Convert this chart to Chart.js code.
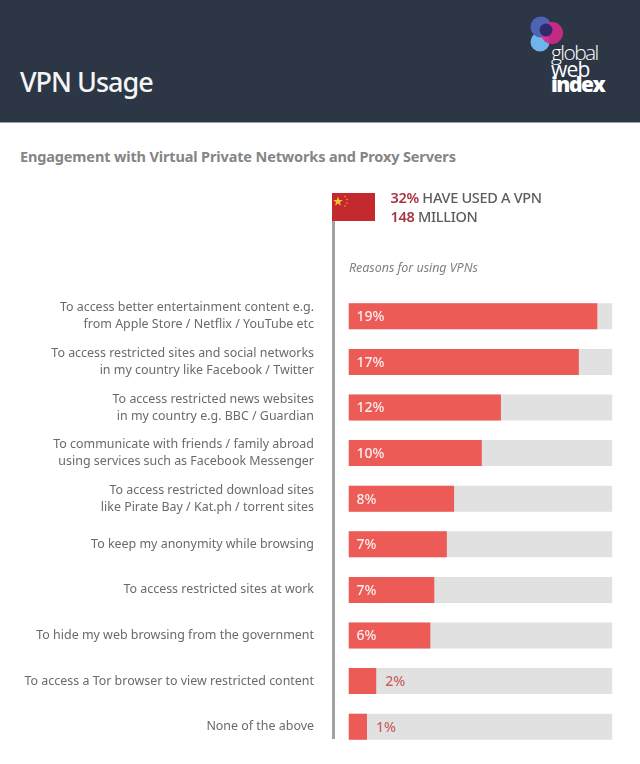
<!DOCTYPE html>
<html>
<head>
<meta charset="utf-8">
<title>VPN Usage</title>
<script src="https://cdn.jsdelivr.net/npm/chart.js@4"></script>
<style>
  html, body { margin: 0; padding: 0; background: #fff; }
  #page { position: relative; width: 640px; height: 764px; overflow: hidden; font-family: "Noto Sans", sans-serif; }
  #page div, #page svg { position: absolute; white-space: nowrap; }
  #chart { position: absolute; left: 0; top: 0; }
  #header { left: 0; top: 0; width: 640px; height: 122px; background: #2c3644; border-bottom: 1px solid #9aa0a8; }
  #title { left: 20px; top: 63px; font-size: 27px; line-height: 38px; font-weight: 500; color: #f4f5f6; letter-spacing: -1px; }
  #subtitle { left: 20px; top: 145px; font-size: 14.5px; line-height: 22px; font-weight: 700; color: #858585; letter-spacing: -0.14px; }
  #pole { left: 332px; top: 221px; width: 3px; height: 518px; background: #a2a2a2; }
  .stat { left: 390.5px; font-size: 14.5px; line-height: 20px; font-weight: 500; color: #5c5c5c; letter-spacing: -0.3px; }
  .stat b { color: #a83340; font-weight: 600; }
  #reasons { left: 349px; top: 259px; font-size: 12.5px; line-height: 18px; font-style: italic; color: #808080; letter-spacing: -0.05px; }
  .logo { color: #fff; left: 551px; letter-spacing: -1.2px; font-family: "Open Sans", sans-serif; }
</style>
</head>
<body>
<div id="page">
  <div id="header"></div>
  <div id="title">VPN Usage</div>
  <svg style="left:525px;top:10px" width="50" height="50" viewBox="0 0 50 50">
    <circle cx="15" cy="32" r="9.5" fill="#6fb4ea"/>
    <circle cx="16" cy="17" r="10.5" fill="#4f63b5"/>
    <circle cx="27" cy="23" r="11" fill="#d5288c" opacity="0.9"/>
    <circle cx="21" cy="20" r="6.5" fill="#2e2a6b"/>
  </svg>
  <div class="logo" style="top:40px;font-size:21px;line-height:24px;font-weight:300;letter-spacing:-1.6px">global</div>
  <div class="logo" style="top:57px;font-size:21px;line-height:24px;font-weight:400;letter-spacing:-0.8px">web</div>
  <div class="logo" style="top:72px;font-size:21px;line-height:24px;font-weight:800;letter-spacing:-1.5px">index</div>
  <div id="subtitle">Engagement with Virtual Private Networks and Proxy Servers</div>
  <canvas id="chart" width="640" height="764"></canvas>
  <div id="pole"></div>
  <svg style="left:332px;top:193px" width="43" height="28" viewBox="0 0 43 28">
    <rect width="43" height="28" fill="#c42a2d"/>
    <polygon points="6,3.5 7.2,7 10.8,7 7.9,9.2 9,12.7 6,10.6 3,12.7 4.1,9.2 1.2,7 4.8,7" fill="#f2c230"/>
    <circle cx="13" cy="3.5" r="0.7" fill="#f2c230"/>
    <circle cx="15" cy="6.5" r="0.7" fill="#f2c230"/>
    <circle cx="15" cy="10" r="0.7" fill="#f2c230"/>
    <circle cx="13" cy="13" r="0.7" fill="#f2c230"/>
  </svg>
  <div class="stat" style="top:187px"><b>32%</b> HAVE USED A VPN</div>
  <div class="stat" style="top:205.5px"><b>148</b> MILLION</div>
  <div id="reasons">Reasons for using VPNs</div>
</div>
<script>
const reasons = [
  ["To access better entertainment content e.g.", "from Apple Store / Netflix / YouTube etc"],
  ["To access restricted sites and social networks", "in my country like Facebook / Twitter"],
  ["To access restricted news websites", "in my country e.g. BBC / Guardian"],
  ["To communicate with friends / family abroad", "using services such as Facebook Messenger"],
  ["To access restricted download sites", "like Pirate Bay / Kat.ph / torrent sites"],
  "To keep my anonymity while browsing",
  "To access restricted sites at work",
  "To hide my web browsing from the government",
  "To access a Tor browser to view restricted content",
  "None of the above"
];
// printed labels are these rounded
const shares = [18.85, 17.45, 11.55, 10.1, 8.0, 7.45, 6.5, 6.2, 2.1, 1.4];
const shareLabels = ["19%", "17%", "12%", "10%", "8%", "7%", "7%", "6%", "2%", "1%"];
const trackValues = [20, 20, 20, 20, 20, 20, 20, 20, 20, 20];

const barLabels = {
  id: "barLabels",
  afterDatasetsDraw(chart) {
    const ctx = chart.ctx;
    const bars = chart.getDatasetMeta(0).data;
    ctx.save();
    ctx.font = "500 14px 'Noto Sans'";
    ctx.textBaseline = "middle";
    bars.forEach((bar, i) => {
      const inside = shares[i] > 3;
      ctx.fillStyle = inside ? "#fbeeee" : "#c9605f";
      ctx.fillText(shareLabels[i], inside ? bar.base + 8 : bar.x + 9, bar.y + 1);
    });
    ctx.restore();
  }
};

new Chart(document.getElementById("chart").getContext("2d"), {
  type: "bar",
  data: {
    labels: reasons,
    datasets: [
      { data: shares, backgroundColor: "#ec5b56", order: 1, grouped: false },
      { data: trackValues, backgroundColor: "#e1e1e1", order: 2, grouped: false }
    ]
  },
  options: {
    indexAxis: "y",
    responsive: false,
    animation: false,
    barPercentage: 0.57,
    categoryPercentage: 1,
    layout: { padding: { top: 293.5, bottom: 14.5, right: 27.5, left: 0 } },
    plugins: { legend: { display: false }, tooltip: { enabled: false } },
    scales: {
      x: { display: false, min: 0, max: 20 },
      y: {
        afterFit(scale) {
          scale.width = 348.5;
          // keep the label height from shrinking the plot area
          scale.paddingTop = 0;
          scale.paddingBottom = 0;
        },
        border: { display: false },
        grid: { display: false, drawTicks: false },
        ticks: {
          autoSkip: false,
          padding: 34.5,
          color: "#6a6a6a",
          font: { family: "'Noto Sans'", size: 12.45, lineHeight: 1.37 }
        }
      }
    }
  },
  plugins: [barLabels]
});
</script>
</body>
</html>
